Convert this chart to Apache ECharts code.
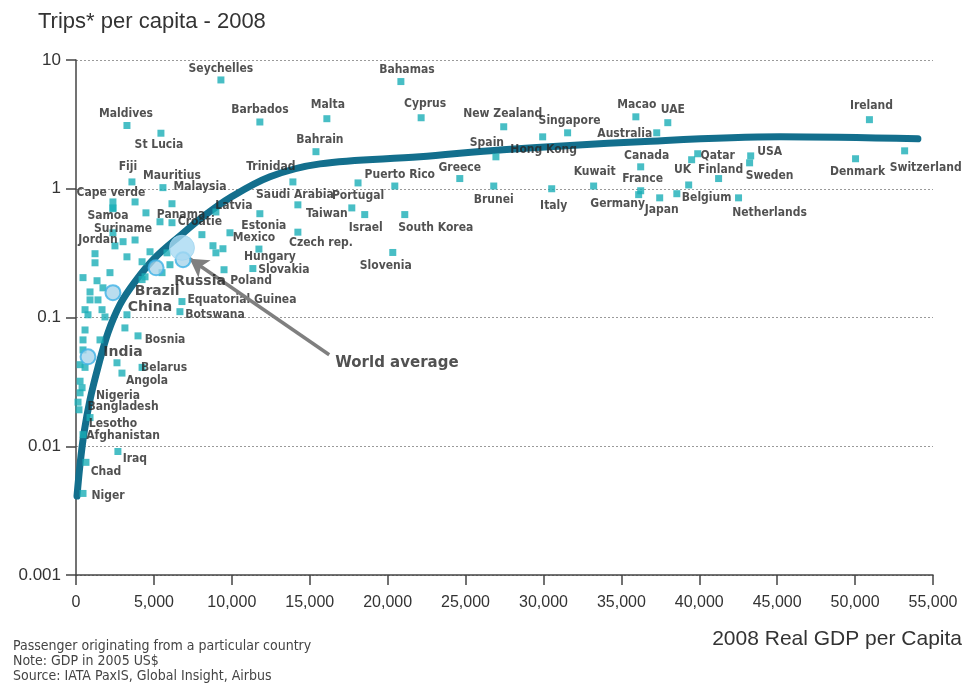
<!DOCTYPE html>
<html>
<head>
<meta charset="utf-8">
<title>Trips per capita - 2008</title>
<script src="https://cdn.jsdelivr.net/npm/echarts@6/dist/echarts.min.js"></script>
<style>
  html, body { margin: 0; padding: 0; background: #fff; }
  #chart { width: 967px; height: 684px; }
</style>
</head>
<body>
<div id="chart"></div>
<script>
// Labelled countries: real GDP per capita (2005 US$) and trips per capita, 2008
const countries = [
  'Seychelles','Maldives','St Lucia','Barbados','Malta','Bahrain','Bahamas','Cyprus',
  'New Zealand','Singapore','Hong Kong','Spain','Macao','UAE','Australia','Ireland',
  'Trinidad','Puerto Rico','Portugal','Greece','Brunei','Italy','Kuwait','Canada',
  'France','Germany','Japan','UK','Qatar','Finland','Belgium','Netherlands','USA',
  'Sweden','Denmark','Switzerland','Saudi Arabia','Taiwan','Israel','South Korea',
  'Czech rep.','Slovenia','Estonia','Hungary','Slovakia','Poland','Mexico','Croatie',
  'Latvia','Equatorial Guinea','Botswana','Fiji','Mauritius','Malaysia','Cape verde',
  'Samoa','Panama','Suriname','Jordan','Bosnia','Belarus','Angola','Nigeria',
  'Bangladesh','Lesotho','Afghanistan','Iraq','Chad','Niger'
];
const gdp = [
  9300, 3270, 5450, 11800, 16100, 15400, 20850, 22150,
  27450, 31550, 29950, 26950, 35930, 37980, 37270, 50920,
  13920, 20460, 18100, 24630, 26810, 30530, 33220, 36240,
  36240, 36110, 37460, 39510, 39900, 41240, 39320, 42520, 43300,
  43230, 50030, 53180, 14240, 17700, 18530, 21100,
  14240, 20330, 11800, 11740, 11350, 9500, 9880, 8080,
  8980, 6800, 6670, 3590, 5580, 6160, 2370,
  2370, 6160, 3790, 2500, 3980, 4240, 2950, 260,
  130, 900, 450, 2690, 640, 450
];
const trips = [
  7.0, 3.1, 2.7, 3.3, 3.5, 1.94, 6.8, 3.56,
  3.03, 2.72, 2.53, 1.77, 3.62, 3.26, 2.72, 3.44,
  1.13, 1.05, 1.11, 1.2, 1.05, 1.0, 1.05, 1.48,
  0.965, 0.9, 0.85, 1.68, 1.87, 1.2, 1.07, 0.85, 1.8,
  1.59, 1.71, 1.97, 0.75, 0.71, 0.63, 0.63,
  0.46, 0.32, 0.64, 0.34, 0.24, 0.235, 0.455, 0.44,
  0.66, 0.133, 0.111, 1.13, 1.02, 0.765, 0.79,
  0.70, 0.545, 0.40, 0.36, 0.072, 0.041, 0.037, 0.026,
  0.022, 0.0167, 0.0123, 0.0091, 0.0075, 0.0043
];

// Countries drawn without a name
const otherGdp = [
  2370, 3790, 5390, 3020, 1220, 1220, 2180, 3270, 4240, 4750, 5840, 5520,
  4240, 1350, 900, 900, 1410, 580, 1670, 1860, 3270, 3140, 580, 450,
  1540, 450, 260, 580, 2630, 260, 390, 190, 8790, 9430, 8980, 6030,
  4430, 450, 1730, 770, 38560, 2370, 4490
];
const otherTrips = [
  0.71, 0.79, 0.554, 0.388, 0.313, 0.266, 0.223, 0.296, 0.271, 0.324, 0.318, 0.223,
  0.197, 0.193, 0.158, 0.137, 0.137, 0.115, 0.115, 0.101, 0.105, 0.083, 0.080, 0.067,
  0.067, 0.056, 0.043, 0.041, 0.0445, 0.032, 0.0285, 0.0192, 0.361, 0.342, 0.318, 0.257,
  0.207, 0.204, 0.170, 0.105, 0.915, 0.455, 0.65
];

// Large emerging economies
const emerging = ['Brazil', 'China', 'India', 'Russia'];
const emergingGdp = [5140, 2370, 770, 6870];
const emergingTrips = [0.243, 0.156, 0.0495, 0.281];

// World average
const worldGdp = 6800;
const worldTrips = 0.348;

// Fitted trend of trips against GDP
const curveGdp = [64, 257, 514, 900, 1410, 2050, 2820, 3790, 5070, 6670, 8150, 9880, 12450, 15660, 22070, 27400, 36190, 45180, 54030];
const curveTrips = [0.0041, 0.0072, 0.0127, 0.023, 0.041, 0.076, 0.126, 0.19, 0.291, 0.431, 0.606, 0.851, 1.24, 1.56, 1.77, 2.01, 2.32, 2.53, 2.44];

// Arrow pointing at the world average
const arrowFrom = [16250, 0.0514];
const arrowTo = [7300, 0.286];

const yTicks = [0.001, 0.01, 0.1, 1, 10];
const xMax = 55000;
const xStep = 5000;

// Label placement relative to each marker (pixels)
const labelOffset = {
  'Seychelles':[0,-11],'Maldives':[-1,-12],'St Lucia':[-2,12],'Barbados':[0,-12],'Malta':[1,-14],
  'Bahrain':[4,-12],'Bahamas':[6,-12],'Cyprus':[4,-14],'New Zealand':[-1,-13],'Singapore':[2,-12],
  'Hong Kong':[1,13],'Spain':[-9,-14],'Macao':[1,-12],'UAE':[5,-13],'Australia':[-32,1],'Ireland':[2,-14],
  'Trinidad':[-22,-15],'Puerto Rico':[5,-11],'Portugal':[0,13],'Greece':[0,-11],'Brunei':[0,14],
  'Italy':[2,17],'Kuwait':[1,-14],'Canada':[6,-11],'France':[2,-12],'Germany':[-21,9],'Japan':[2,12],
  'UK':[-9,10],'Qatar':[20,2],'Finland':[2,-9],'Belgium':[18,13],'Netherlands':[31,15],'USA':[19,-4],
  'Sweden':[20,13],'Denmark':[2,13],'Switzerland':[21,17],'Saudi Arabia':[-3,-10],'Taiwan':[-25,6],
  'Israel':[1,13],'South Korea':[31,13],'Czech rep.':[23,11],'Slovenia':[-7,13],'Estonia':[4,12],
  'Hungary':[11,8],'Slovakia':[31,1],'Poland':[27,11],'Mexico':[24,5],'Croatie':[-2,-13],
  'Latvia':[18,-6],'Equatorial Guinea':[60,-2],'Botswana':[35,3],'Fiji':[-4,-15],'Mauritius':[9,-12],
  'Malaysia':[28,-17],'Cape verde':[-2,-9],'Samoa':[-5,7],'Panama':[9,-8],'Suriname':[-12,-11],
  'Jordan':[-17,-6],'Bosnia':[27,4],'Belarus':[22,1],'Angola':[25,8],'Nigeria':[38,3],
  'Bangladesh':[45,5],'Lesotho':[23,6],'Afghanistan':[40,1],'Iraq':[17,7],'Chad':[20,10],'Niger':[25,2],
  'Brazil':[1,24],'China':[37,15],'India':[35,-4],'Russia':[17,22]
};

const TEAL = '#1aaeb6';
const NARROW = '"DejaVu Sans Condensed", "Liberation Sans", sans-serif';
const SANS = '"Liberation Sans", Arial, Helvetica, sans-serif';
const BOLDSANS = '"DejaVu Sans", "Liberation Sans", sans-serif';

const countryData = countries.map((name, i) => ({
  name: name,
  value: [gdp[i], trips[i]],
  label: { offset: labelOffset[name] || [0, -12] }
}));
const otherData = otherGdp.map((g, i) => [g, otherTrips[i]]);
const emergingData = emerging.map((name, i) => ({
  name: name,
  value: [emergingGdp[i], emergingTrips[i]],
  label: { offset: labelOffset[name] }
}));

const chart = echarts.init(document.getElementById('chart'), null, { renderer: 'canvas' });

chart.setOption({
  animation: false,
  backgroundColor: '#ffffff',
  title: [
    { text: 'Trips* per capita - 2008', left: 33, top: 6,
      textStyle: { fontFamily: SANS, fontSize: 22, fontWeight: 'normal', color: '#333' } },
    { text: '2008 Real GDP per Capita', right: 0, top: 624,
      textStyle: { fontFamily: SANS, fontSize: 21, fontWeight: 'normal', color: '#333' } },
    { text: 'Passenger originating from a particular country\nNote: GDP in 2005 US$\nSource: IATA PaxIS, Global Insight, Airbus',
      left: 8, top: 634,
      textStyle: { fontFamily: NARROW, fontSize: 14, fontWeight: 'normal', color: '#444', lineHeight: 15 } }
  ],
  grid: { left: 76, right: 34, top: 60, bottom: 109, containLabel: false },
  xAxis: {
    type: 'value', min: 0, max: xMax, interval: xStep,
    axisLine: { show: true, lineStyle: { color: '#444', width: 1.5 } },
    axisTick: { show: true, length: 10, lineStyle: { color: '#444', width: 1.5 } },
    axisLabel: { margin: 20, fontFamily: SANS, fontSize: 16, color: '#333',
      formatter: v => Number(v).toLocaleString('en-US') },
    splitLine: { show: false }
  },
  yAxis: {
    type: 'log', logBase: 10, min: yTicks[0], max: yTicks[yTicks.length - 1],
    axisLine: { show: true, lineStyle: { color: '#444', width: 1.5 } },
    axisTick: { show: true, length: 10, lineStyle: { color: '#444', width: 1.5 } },
    axisLabel: { margin: 15, fontFamily: SANS, fontSize: 17, color: '#333',
      formatter: v => String(Number(Number(v).toPrecision(1))) },
    splitLine: { show: true, lineStyle: { color: '#9a9a9a', type: [2, 2], width: 1 } }
  },
  series: [
    {
      name: 'trend', type: 'line', z: 2,
      data: curveGdp.map((g, i) => [g, curveTrips[i]]),
      smooth: 0.35, showSymbol: false, silent: true,
      lineStyle: { color: '#136f8d', width: 7, cap: 'round' }
    },
    {
      name: 'other', type: 'scatter', z: 3,
      symbol: 'rect', symbolSize: 7,
      itemStyle: { color: TEAL },
      data: otherData
    },
    {
      name: 'countries', type: 'scatter', z: 4,
      symbol: 'rect', symbolSize: 7,
      itemStyle: { color: TEAL },
      label: { show: true, position: 'inside', formatter: '{b}',
        fontFamily: NARROW, fontSize: 12, fontWeight: 'bold', color: '#262626',
        textBorderWidth: 0 },
      data: countryData
    },
    {
      name: 'emerging', type: 'scatter', z: 5,
      symbol: 'circle', symbolSize: 15,
      itemStyle: { color: '#a9d4ea', borderColor: '#3db2e6', borderWidth: 2 },
      label: { show: true, position: 'inside', formatter: '{b}',
        fontFamily: BOLDSANS, fontSize: 14, fontWeight: 'bold', color: '#262626',
        textBorderWidth: 0 },
      data: emergingData
    },
    {
      name: 'world', type: 'scatter', z: 6,
      symbol: 'circle', symbolSize: 25,
      itemStyle: { color: '#a8daf2', borderColor: '#a0d5f0', borderWidth: 1 },
      label: { show: true, position: 'inside', offset: [215, 115], formatter: 'World average',
        fontFamily: BOLDSANS, fontSize: 15, fontWeight: 'bold', color: '#262626',
        textBorderWidth: 0 },
      data: [[worldGdp, worldTrips]],
      markLine: {
        silent: true, animation: false,
        symbol: ['none', 'arrow'], symbolSize: [16, 18],
        label: { show: false },
        lineStyle: { color: '#7f7f7f', width: 3.5, type: 'solid' },
        data: [[{ coord: arrowFrom }, { coord: arrowTo }]]
      }
    }
  ]
});
</script>
</body>
</html>
